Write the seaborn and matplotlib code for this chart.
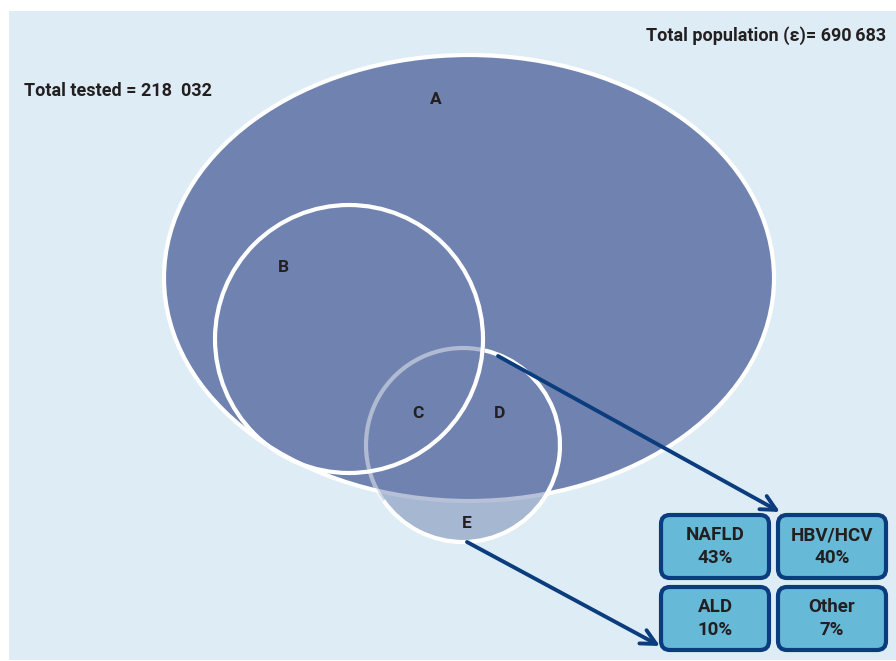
import matplotlib.pyplot as plt
import matplotlib.patches as mpatches
import seaborn as sns

# Werte aus der Grafik
total_population = "690\u2009683"
total_tested = "218  032"
region_labels = ["A", "B", "C", "D", "E"]
causes = ["NAFLD", "HBV/HCV", "ALD", "Other"]
cause_pct = [43, 40, 10, 7]

BG = "#deedf5"
FILL = "#7083b0"
NAVY = "#0b3c7d"
BOX = "#66b9d7"
TXT = "#231f20"

sns.set_theme(style="white")
plt.rcParams['font.family'] = ['Roboto', 'DejaVu Sans']

fig = plt.figure(figsize=(8.96, 6.61), dpi=100)
ax = fig.add_axes([0, 0, 1, 1])
ax.set_xlim(0, 896)
ax.set_ylim(661, 0)
ax.set_aspect('equal')
ax.axis('off')

# Hintergrundfläche
ax.add_patch(mpatches.Rectangle((9, 11), 887, 649, facecolor=BG, edgecolor='none', zorder=0))

# Grosse Ellipse (A)
ax.add_patch(mpatches.Ellipse((469, 278), 610, 446, facecolor=FILL, edgecolor='white', lw=3, zorder=1))

# Kreis E (halbtransparent)
ax.add_patch(mpatches.Circle((463, 445), 97, facecolor=FILL, alpha=0.5, edgecolor='none', zorder=2))

# Kreis B
ax.add_patch(mpatches.Circle((349, 339), 134, facecolor='none', edgecolor='white', lw=3, zorder=3))

# Rand von Kreis E: links oben blass, sonst weiss
ax.add_patch(mpatches.Arc((463, 445), 194, 194, theta1=-215, theta2=-77,
                          edgecolor='white', lw=3, alpha=0.45, zorder=3))
ax.add_patch(mpatches.Arc((463, 445), 194, 194, theta1=-77, theta2=145,
                          edgecolor='white', lw=3, zorder=3))

# Bereichsbuchstaben
label_pos = [(436, 99), (283, 268), (418, 413), (500, 413), (467, 523)]
for lab, (x, y) in zip(region_labels, label_pos):
    ax.text(x, y, lab, ha='center', va='center', fontsize=12.5, fontweight='bold', color=TXT, zorder=5)

ax.text(24, 91, f"Total tested = {total_tested}", ha='left', va='center',
        fontsize=13, fontweight='bold', color=TXT, zorder=5)
ax.text(886, 36, f"Total population (\u03b5)= {total_population}", ha='right', va='center',
        fontsize=13, fontweight='bold', color=TXT, zorder=5)

# Pfeile
arrow = dict(arrowstyle='->,head_length=0.9,head_width=0.45', color=NAVY, lw=2.8, shrinkA=0, shrinkB=0)
ax.annotate('', xy=(780, 512), xytext=(498, 356), arrowprops=arrow, zorder=4)
ax.annotate('', xy=(660, 646), xytext=(467, 542), arrowprops=arrow, zorder=4)

# Ursachen-Kästchen
box_pos = [(661, 515), (778, 515), (661, 587), (778, 587)]
bw, bh = 108, 63
for name, pct, (x, y) in zip(causes, cause_pct, box_pos):
    ax.add_patch(mpatches.FancyBboxPatch((x, y), bw, bh,
                                         boxstyle="round,pad=0,rounding_size=9",
                                         facecolor=BOX, edgecolor=NAVY, lw=3, zorder=4))
    ax.text(x + bw / 2, y + bh / 2, f"{name}\n{pct}%", ha='center', va='center',
            fontsize=13.5, fontweight='bold', color=TXT, linespacing=1.3, zorder=5)

fig.savefig('out.png', dpi=100, facecolor='white')
